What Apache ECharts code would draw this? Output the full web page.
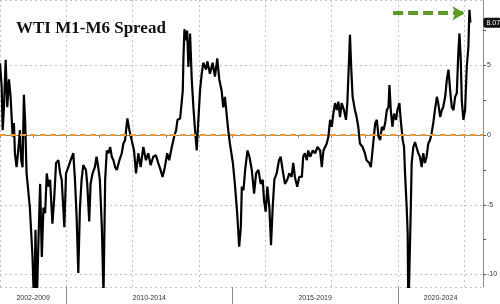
<!DOCTYPE html>
<html>
<head>
<meta charset="utf-8">
<script src="https://cdn.jsdelivr.net/npm/echarts@6/dist/echarts.min.js"></script>
<style>
html,body{margin:0;padding:0;background:#fff;}
#chart{width:500px;height:304px;}
</style>
</head>
<body>
<div id="chart"></div>
<script>
// ---- data (decimal years, WTI M1-M6 spread in $/bbl) ----
const dates = [
2008.00,2008.05,2008.08,2008.12,2008.17,2008.22,2008.27,2008.32,2008.38,2008.42,
2008.45,2008.50,2008.55,2008.60,2008.64,2008.68,2008.72,2008.76,2008.80,2008.90,
2008.98,2009.03,2009.07,2009.11,2009.16,2009.21,2009.26,2009.31,2009.36,2009.41,
2009.46,2009.51,2009.58,2009.63,2009.69,2009.76,2009.81,2009.86,2009.94,2009.99,
2010.06,2010.13,2010.21,2010.26,2010.31,2010.36,2010.41,2010.46,2010.51,2010.59,
2010.63,2010.69,2010.73,2010.79,2010.86,2010.91,2010.96,2011.01,2011.07,2011.12,
2011.17,2011.22,2011.27,2011.32,2011.37,2011.42,2011.47,2011.52,2011.60,2011.67,
2011.72,2011.77,2011.84,2011.90,2011.97,2012.04,2012.10,2012.17,2012.24,2012.32,
2012.40,2012.47,2012.54,2012.62,2012.70,2012.77,2012.84,2012.90,2012.97,2013.04,
2013.10,2013.18,2013.25,2013.31,2013.35,2013.43,2013.48,2013.51,2013.53,2013.56,
2013.61,2013.64,2013.68,2013.73,2013.78,2013.83,2013.88,2013.93,2013.98,2014.03,
2014.08,2014.13,2014.21,2014.25,2014.33,2014.41,2014.48,2014.55,2014.61,2014.68,
2014.73,2014.78,2014.83,2014.88,2014.93,2015.02,2015.08,2015.15,2015.21,2015.26,
2015.29,2015.34,2015.39,2015.46,2015.52,2015.59,2015.66,2015.72,2015.79,2015.86,
2015.92,2015.96,2016.01,2016.06,2016.12,2016.17,2016.22,2016.27,2016.34,2016.41,
2016.46,2016.52,2016.59,2016.66,2016.72,2016.79,2016.84,2016.89,2016.96,2017.02,
2017.10,2017.14,2017.19,2017.25,2017.29,2017.35,2017.43,2017.50,2017.57,2017.65,
2017.70,2017.75,2017.80,2017.85,2017.90,2017.95,2018.00,2018.05,2018.10,2018.15,
2018.20,2018.25,2018.30,2018.37,2018.43,2018.47,2018.51,2018.55,2018.59,2018.63,
2018.70,2018.75,2018.80,2018.85,2018.93,2019.00,2019.05,2019.13,2019.18,2019.24,
2019.31,2019.36,2019.41,2019.46,2019.51,2019.56,2019.61,2019.66,2019.71,2019.74,
2019.78,2019.83,2019.88,2019.94,2019.98,2020.04,2020.08,2020.14,2020.18,2020.21,
2020.26,2020.29,2020.31,2020.36,2020.38,2020.41,2020.46,2020.51,2020.56,2020.61,
2020.66,2020.71,2020.76,2020.81,2020.86,2020.91,2020.96,2021.01,2021.06,2021.11,
2021.17,2021.21,2021.27,2021.32,2021.36,2021.42,2021.47,2021.52,2021.57,2021.62,
2021.67,2021.72,2021.77,2021.82,2021.85,2021.89,2021.92,2021.97,2022.02,2022.07,
2022.12,2022.15,2022.18
];
const spread = [
5.16,3.5,0.36,2.0,5.4,2.0,4.0,2.75,-0.1,0.86,
-1.3,-2.3,-1.1,0.36,-1.8,-2.3,2.9,0.86,-2.7,-5.2,
-8.75,-12.5,-6.8,-12.0,-7.55,-3.5,-8.75,-5.2,-5.6,-2.75,
-3.7,-3.2,-6.35,-4.7,-2.0,-1.8,-2.7,-3.2,-6.6,-2.75,
-2.3,-1.8,-1.3,-3.2,-5.9,-9.9,-5.2,-3.2,-2.15,-2.5,
-3.5,-6.2,-3.5,-2.75,-2.3,-1.55,-2.3,-3.2,-6.6,-11.5,
-3.2,-1.1,-1.3,-0.85,-1.55,-1.8,-2.3,-2.5,-1.8,-1.3,
-0.6,-0.36,1.2,0.36,-0.36,-1.1,-2.75,-1.3,-2.3,-0.85,
-1.8,-1.3,-2.15,-1.55,-1.45,-2.0,-2.5,-3.0,-2.3,-1.3,
-1.8,-0.85,-0.1,0.36,1.1,1.2,1.3,3.2,5.6,7.6,
6.8,7.5,4.9,7.3,4.0,2.0,0.36,-1.1,1.1,3.2,
4.4,5.2,4.7,5.3,4.4,5.2,4.2,5.5,4.0,3.2,
2.0,2.75,1.55,0.36,-0.6,-2.0,-3.5,-5.6,-8.0,-6.6,
-3.7,-3.95,-2.5,-1.1,-1.55,-2.5,-4.2,-2.75,-2.5,-3.5,
-3.2,-4.7,-5.5,-3.7,-5.2,-7.9,-5.2,-3.2,-2.75,-1.8,
-1.55,-2.5,-3.5,-3.2,-2.75,-3.0,-2.0,-3.0,-3.7,-3.0,
-3.0,-1.55,-1.3,-1.8,-1.1,-1.55,-1.1,-1.3,-0.85,-1.1,
-2.3,-1.1,-0.85,-0.6,-0.1,1.1,0.6,1.55,2.3,1.8,
2.4,1.3,2.3,1.8,1.1,2.3,4.7,7.2,4.7,2.75,
1.8,1.3,0.6,-0.6,-0.85,-1.3,-1.8,-2.0,-2.3,-0.85,
0.85,1.1,-0.1,-0.36,0.6,0.36,0.85,1.8,2.0,3.6,
1.8,0.6,1.55,1.1,1.8,2.3,1.1,-0.36,-0.85,-2.75,
-5.2,-7.1,-13.0,-13.0,-5.6,-2.0,-0.85,-0.5,-0.6,-1.3,
-1.55,-2.3,-1.3,-2.0,-1.55,-0.6,-0.36,0.12,0.85,1.8,
2.75,2.3,1.3,1.8,2.0,2.75,4.0,4.7,3.2,2.0,
1.8,2.75,3.0,6.1,7.3,5.4,2.5,1.1,1.8,4.9,
6.35,9.0,8.07
];
const groupLabels = ['2002-2009','2010-2014','2015-2019','2020-2024'];
const groupStarts = [2002, 2010, 2015, 2020];
const groupEnds   = [2010, 2015, 2020, 2025];
const yLabelValues = [-10, -5, 0, 5];
const yTickValues  = [-10, -7.5, -5, -2.5, 0, 2.5, 5, 7.5];
const xMin = 2008, xMax = 2022.56;
const yMin = -10.9, yMax = 9.7;
const titleText = 'WTI M1-M6 Spread';
const arrowStart = [2019.85, 8.75], arrowEnd = [2022.0, 8.75];
const zeroLevel = 0;

// ---- derived ----
const seriesData = dates.map((d, i) => [d, spread[i]]);
const groupCenters = groupStarts.map((s, i) =>
  (Math.max(s, xMin) + Math.min(groupEnds[i], xMax)) / 2);

const chart = echarts.init(document.getElementById('chart'), null, {renderer: 'canvas'});
const gridColor = '#c4c4c4';
const axisColor = '#8a8a8a';
const font = '"Liberation Sans", Arial, sans-serif';

chart.setOption({
  animation: false,
  backgroundColor: '#ffffff',
  title: {
    text: titleText,
    left: 16, top: 20, padding: 0,
    textStyle: {fontFamily: '"Liberation Serif", "Times New Roman", serif', fontWeight: 'bold', fontSize: 17, color: '#111'}
  },
  grid: {left: 0, right: 17, top: 0, bottom: 17, containLabel: false, outerBoundsMode: 'none'},
  xAxis: [
    { type: 'value', min: xMin, max: xMax, interval: 1, position: 'bottom',
      axisLine: {show: true, lineStyle: {color: axisColor, width: 1}},
      axisTick: {show: true, length: 3, lineStyle: {color: axisColor}},
      axisLabel: {show: false}, splitLine: {show: false} },
    { type: 'value', min: xMin, max: xMax, interval: 2, position: 'bottom',
      axisLine: {show: false}, axisTick: {show: false}, axisLabel: {show: false},
      splitLine: {show: true, lineStyle: {color: gridColor, type: [2, 3], width: 1}} },
    { type: 'value', min: xMin, max: xMax, position: 'bottom',
      axisLine: {show: false},
      axisTick: {show: true, customValues: groupStarts.filter(v => v > xMin && v < xMax), length: 17, lineStyle: {color: axisColor}},
      axisLabel: {show: true, customValues: groupCenters, margin: 8, fontSize: 7, color: '#333', fontFamily: font,
        formatter: function (v) {
          let best = 0;
          groupCenters.forEach((c, i) => { if (Math.abs(c - v) < Math.abs(groupCenters[best] - v)) best = i; });
          return groupLabels[best];
        }},
      splitLine: {show: false} }
  ],
  yAxis: [
    { type: 'value', min: yMin, max: yMax, splitNumber: 4, position: 'right',
      axisLine: {show: true, lineStyle: {color: axisColor, width: 1}},
      axisTick: {show: false}, axisLabel: {show: false},
      splitLine: {show: true, lineStyle: {color: gridColor, type: [2, 3], width: 1}} },
    { type: 'value', min: yMin, max: yMax, position: 'right',
      axisLine: {show: false},
      axisTick: {show: true, customValues: yTickValues, length: 3, inside: false, lineStyle: {color: '#555'}},
      axisLabel: {show: true, customValues: yLabelValues, margin: 4, fontSize: 7, color: '#333', fontFamily: font},
      splitLine: {show: false} }
  ],
  series: [{
    type: 'line',
    xAxisIndex: 0, yAxisIndex: 0,
    data: seriesData,
    showSymbol: false,
    symbol: 'none',
    clip: true,
    lineStyle: {color: '#000', width: 2.2},
    z: 3,
    endLabel: {
      show: true,
      formatter: p => p.value[1].toFixed(2),
      distance: 13,
      fontSize: 7, fontFamily: font, color: '#fff',
      backgroundColor: '#111', borderRadius: 2, padding: [2, 2, 1, 3]
    },
    markLine: {
      silent: true,
      animation: false,
      label: {show: false},
      symbol: ['none', 'none'],
      data: [
        {yAxis: zeroLevel, lineStyle: {color: '#f39a2c', width: 2, type: [6, 4]}},
        [{coord: arrowStart, symbol: 'none', lineStyle: {color: '#5b9a25', width: 4, type: [10, 5]}},
         {coord: arrowEnd, symbol: 'arrow', symbolSize: [11, 12]}]
      ]
    }
  }]
});
</script>
</body>
</html>
